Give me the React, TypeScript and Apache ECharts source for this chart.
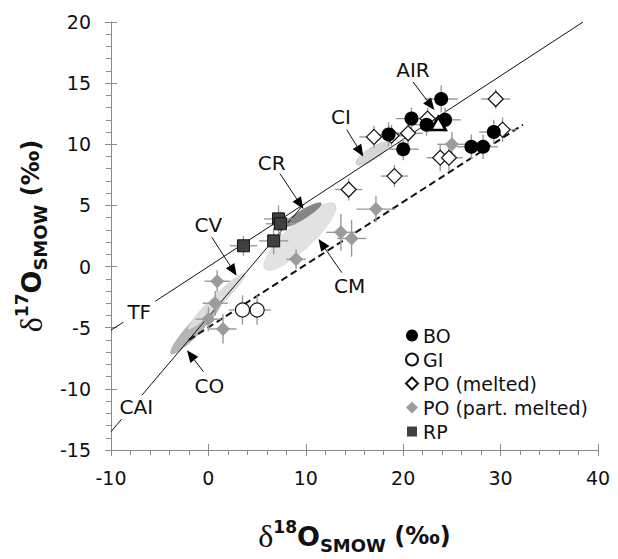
import React, { useEffect, useRef } from 'react';
import * as echarts from 'echarts';

const FONT = '"DejaVu Sans", Verdana, sans-serif';

// axis ranges
const X_MIN = -10, X_MAX = 40, X_INT = 10;
const Y_MIN = -15, Y_MAX = 20, Y_INT = 5;

// [d18O, d17O, xErr, yErr]
const boData = [
  [23.9, 13.7, 1.7, 1.1],
  [20.85, 12.1, 1.6, 0.9],
  [22.4, 11.6, 1.5, 0.9],
  [24.3, 12.0, 1.6, 1.0],
  [18.5, 10.8, 1.6, 1.0],
  [20.0, 9.6, 1.6, 0.9],
  [27.0, 9.8, 1.5, 1.0],
  [28.2, 9.8, 1.5, 1.0],
  [29.3, 11.0, 1.5, 1.0],
];
const giData = [
  [3.5, -3.55, 1.4, 1.2],
  [5.0, -3.55, 1.4, 1.2],
];
const poMeltedData = [
  [17.0, 10.6, 1.5, 0.9],
  [18.8, 10.7, 1.5, 0.9],
  [20.5, 10.9, 1.5, 0.9],
  [22.5, 12.1, 1.5, 0.9],
  [29.5, 13.7, 1.5, 0.8],
  [30.2, 11.2, 1.5, 1.0],
  [23.8, 8.9, 1.4, 1.1],
  [24.7, 8.9, 1.4, 1.1],
  [19.1, 7.4, 1.4, 0.9],
  [14.4, 6.3, 1.4, 0.9],
];
const poPartData = [
  [25.0, 10.0, 1.5, 1.0],
  [17.2, 4.7, 2.0, 1.1],
  [13.6, 2.8, 1.5, 1.5],
  [14.7, 2.3, 1.5, 1.5],
  [9.0, 0.6, 1.0, 0.8],
  [0.9, -1.2, 1.3, 0.9],
  [0.7, -3.0, 1.3, 1.0],
  [0.0, -4.3, 1.3, 1.0],
  [1.5, -5.1, 1.4, 1.2],
];
const rpData = [
  [7.2, 3.9, 1.5, 1.1],
  [7.4, 3.5, 1.5, 1.0],
  [6.7, 2.1, 1.5, 1.1],
  [3.6, 1.7, 1.4, 0.8],
];
const airData = [[23.6, 11.7]];

// reference lines
const tfLine = [[-10, -5.2], [38.46, 20]];
const ccamLine = [[-10, -13.5], [9.8, 5.1]];
const dashedLine = [[-2.0, -6.0], [32.3, 11.6]];

// ellipses: [x1, y1, x2, y2, halfWidthPx]
const ellipseNames = ['CO', 'CV', 'CM', 'CR', 'CI'];
const ellipseData = [
  [-3.84, -7.14, 1.39, -2.66, 7],
  [-2.1, -5.13, 3.74, -0.6, 5.5],
  [5.8, -0.19, 12.98, 5.1, 13],
  [7.6, 3.23, 11.6, 5.18, 4.5],
  [15.16, 8.36, 18.58, 10.12, 6],
];
const ellipseFills = ['#b4b4b4', '#dcdcdc', '#e2e2e2', '#858585', '#d6d6d6'];

// annotation labels
const labelTexts = ['AIR', 'CI', 'CR', 'CV', 'CM', 'TF', 'CO', 'CAI'];
const labelX = [21.0, 13.6, 6.5, 0.0, 14.5, -7.1, 0.1, -7.4];
const labelY = [16.1, 12.2, 8.5, 3.4, -1.6, -3.7, -9.8, -11.5];
const labelOnLine = [false, false, false, false, false, true, false, true];

// arrows: [x1, y1, x2(tip), y2(tip)]
const arrowData = [
  [21.0, 15.1, 23.2, 12.8],
  [14.2, 11.2, 15.9, 9.0],
  [7.35, 7.6, 9.75, 4.7],
  [0.35, 2.4, 2.9, -0.75],
  [13.7, -0.5, 11.3, 2.25],
  [-0.5, -8.6, -2.2, -6.85],
];

const legendNames = ['BO', 'GI', 'PO (melted)', 'PO (part. melted)', 'RP'];

const xy = (arr: number[][]) => arr.map((d) => [d[0], d[1]]);

export default function App() {
  const ref = useRef<HTMLDivElement>(null);
  useEffect(() => {
    if (!ref.current) return;
    const chart = echarts.init(ref.current, undefined, { renderer: 'svg' });

    const errAll = [...boData, ...giData, ...poMeltedData, ...poPartData, ...rpData];

    const richTitle = {
      d: { fontFamily: '"Liberation Serif", "DejaVu Serif", serif', fontSize: 32, color: '#111', lineHeight: 36 },
      sup: { fontFamily: FONT, fontWeight: 'bold', fontSize: 17, color: '#111', lineHeight: 20, verticalAlign: 'top' },
      o: { fontFamily: FONT, fontWeight: 'bold', fontSize: 27, color: '#111', lineHeight: 36 },
      sub: { fontFamily: FONT, fontWeight: 'bold', fontSize: 18, color: '#111', lineHeight: 26, verticalAlign: 'bottom' },
      p: { fontFamily: FONT, fontWeight: 'bold', fontSize: 24, color: '#111', lineHeight: 36 },
    };

    const axisCommon = {
      type: 'value',
      axisLine: { show: true, onZero: false, lineStyle: { color: '#8a8a8a', width: 1 } },
      splitLine: { show: false },
    };

    const option: any = {
      animation: false,
      grid: { left: 111, right: 20, top: 22, bottom: 107 },
      legend: {
        data: legendNames.map((n) =>
          n === 'RP'
            ? { name: n, itemStyle: { color: '#404040', borderColor: '#fff', borderWidth: 2 } }
            : { name: n }
        ),
        orient: 'vertical',
        left: 400,
        top: 321,
        itemWidth: 12,
        itemHeight: 12,
        itemGap: 5,
        selectedMode: false,
        textStyle: { fontFamily: FONT, fontSize: 19, color: '#111', lineHeight: 19 },
      },
      xAxis: [
        {
          ...axisCommon,
          min: X_MIN, max: X_MAX, interval: X_INT,
          position: 'bottom',
          axisTick: { show: true, length: 6, lineStyle: { color: '#8a8a8a' } },
          minorTick: { show: true, splitNumber: 5, length: 5, lineStyle: { color: '#8a8a8a' } },
          axisLabel: { fontFamily: FONT, fontSize: 19, color: '#111', margin: 18 },
          name: '{d|δ}{sup|18}{o|O}{sub|SMOW}{p| (‰)}',
          nameLocation: 'middle',
          nameGap: 68,
          nameTextStyle: { rich: richTitle },
        },
        {
          ...axisCommon,
          min: X_MIN, max: X_MAX, interval: X_INT,
          position: 'bottom',
          axisLine: { show: false, onZero: false },
          axisTick: { show: true, inside: true, length: 6, lineStyle: { color: '#8a8a8a' } },
          axisLabel: { show: false },
        },
      ],
      yAxis: [
        {
          ...axisCommon,
          min: Y_MIN, max: Y_MAX, interval: Y_INT,
          position: 'left',
          axisTick: { show: true, length: 6, lineStyle: { color: '#8a8a8a' } },
          minorTick: { show: true, splitNumber: 5, length: 5, lineStyle: { color: '#8a8a8a' } },
          axisLabel: { fontFamily: FONT, fontSize: 19, color: '#111', margin: 20 },
          name: '{d|δ}{sup|17}{o|O}{sub|SMOW}{p| (‰)}',
          nameLocation: 'middle',
          nameRotate: 90,
          nameGap: 57,
          nameTextStyle: { rich: richTitle },
        },
        {
          ...axisCommon,
          min: Y_MIN, max: Y_MAX, interval: Y_INT,
          position: 'left',
          axisLine: { show: false, onZero: false },
          axisTick: { show: true, inside: true, length: 6, lineStyle: { color: '#8a8a8a' } },
          axisLabel: { show: false },
        },
      ],
      series: [
        {
          type: 'custom',
          name: 'ellipses',
          z: 1,
          silent: true,
          encode: { x: [0, 2], y: [1, 3] },
          data: ellipseData,
          renderItem: (params: any, api: any) => {
            const d = ellipseData[params.dataIndex];
            const p1 = api.coord([d[0], d[1]]);
            const p2 = api.coord([d[2], d[3]]);
            const cx = (p1[0] + p2[0]) / 2;
            const cy = (p1[1] + p2[1]) / 2;
            const rx = Math.hypot(p2[0] - p1[0], p2[1] - p1[1]) / 2;
            const ang = Math.atan2(p2[1] - p1[1], p2[0] - p1[0]);
            return {
              type: 'ellipse',
              x: cx,
              y: cy,
              rotation: -ang,
              shape: { cx: 0, cy: 0, rx, ry: d[4] },
              style: { fill: ellipseFills[params.dataIndex], stroke: 'rgba(150,150,150,0.4)', lineWidth: 0.5 },
            };
          },
        },
        {
          type: 'line', name: 'TF', data: tfLine, z: 2, symbol: 'none', silent: true,
          lineStyle: { color: '#111', width: 1 },
        },
        {
          type: 'line', name: 'CCAM', data: ccamLine, z: 2, symbol: 'none', silent: true,
          lineStyle: { color: '#111', width: 1 },
        },
        {
          type: 'line', name: 'dashed', data: dashedLine, z: 2, symbol: 'none', silent: true,
          lineStyle: { color: '#111', width: 2, type: [7, 4] },
        },
        {
          type: 'custom',
          name: 'errors',
          z: 3,
          silent: true,
          encode: { x: 0, y: 1 },
          data: errAll,
          renderItem: (params: any, api: any) => {
            const x = api.value(0), y = api.value(1), ex = api.value(2), ey = api.value(3);
            const l = api.coord([x - ex, y]);
            const r = api.coord([x + ex, y]);
            const t = api.coord([x, y + ey]);
            const b = api.coord([x, y - ey]);
            const st = { stroke: '#9a9a9a', lineWidth: 1.4 };
            return {
              type: 'group',
              children: [
                { type: 'line', shape: { x1: l[0], y1: l[1], x2: r[0], y2: r[1] }, style: st },
                { type: 'line', shape: { x1: t[0], y1: t[1], x2: b[0], y2: b[1] }, style: st },
              ],
            };
          },
        },
        {
          type: 'scatter', name: 'PO (part. melted)', data: xy(poPartData), z: 5,
          symbol: 'diamond', symbolSize: 14,
          itemStyle: { color: '#9b9b9b', opacity: 1 },
        },
        {
          type: 'scatter', name: 'RP', data: xy(rpData), z: 5,
          symbol: 'rect', symbolSize: 12,
          itemStyle: { color: '#404040', borderColor: '#111', borderWidth: 1, opacity: 1 },
        },
        {
          type: 'scatter', name: 'PO (melted)', data: xy(poMeltedData), z: 5,
          symbol: 'diamond', symbolSize: 15,
          itemStyle: { color: '#fff', borderColor: '#111', borderWidth: 1.2, opacity: 1 },
        },
        {
          type: 'scatter', name: 'GI', data: xy(giData), z: 5,
          symbol: 'circle', symbolSize: 14,
          itemStyle: { color: '#fff', borderColor: '#111', borderWidth: 1.2, opacity: 1 },
        },
        {
          type: 'scatter', name: 'BO', data: xy(boData), z: 6,
          symbol: 'circle', symbolSize: 14,
          itemStyle: { color: '#000', opacity: 1 },
        },
        {
          type: 'scatter', name: 'AIR', data: airData, z: 7,
          symbol: 'triangle', symbolSize: [15, 13],
          itemStyle: { color: '#fff', borderColor: '#000', borderWidth: 2.6, opacity: 1 },
        },
        {
          type: 'custom',
          name: 'arrows',
          z: 8,
          silent: true,
          encode: { x: [0, 2], y: [1, 3] },
          data: arrowData,
          renderItem: (params: any, api: any) => {
            const d = arrowData[params.dataIndex];
            const p1 = api.coord([d[0], d[1]]);
            const p2 = api.coord([d[2], d[3]]);
            const ang = Math.atan2(p2[1] - p1[1], p2[0] - p1[0]);
            const L = 12, W = 5;
            const bx = p2[0] - L * Math.cos(ang), by = p2[1] - L * Math.sin(ang);
            const nx = -Math.sin(ang), ny = Math.cos(ang);
            return {
              type: 'group',
              children: [
                { type: 'line', shape: { x1: p1[0], y1: p1[1], x2: bx, y2: by }, style: { stroke: '#111', lineWidth: 1 } },
                {
                  type: 'polygon',
                  shape: { points: [[p2[0], p2[1]], [bx + nx * W, by + ny * W], [bx - nx * W, by - ny * W]] },
                  style: { fill: '#000' },
                },
              ],
            };
          },
        },
        {
          type: 'custom',
          name: 'labels',
          z: 9,
          silent: true,
          encode: { x: 0, y: 1 },
          data: labelTexts.map((_, i) => [labelX[i], labelY[i]]),
          renderItem: (params: any, api: any) => {
            const i = params.dataIndex;
            const p = api.coord([labelX[i], labelY[i]]);
            return {
              type: 'text',
              x: p[0],
              y: p[1],
              style: {
                text: labelTexts[i],
                fill: '#111',
                font: `20px ${FONT}`,
                align: 'center',
                verticalAlign: 'middle',
                backgroundColor: labelOnLine[i] ? '#fff' : 'transparent',
                padding: labelOnLine[i] ? [2, 4] : 0,
              },
            };
          },
        },
      ],
    };
    chart.setOption(option);
    return () => chart.dispose();
  }, []);

  return <div ref={ref} style={{ position: 'fixed', left: 0, top: 0, width: 618, height: 559, background: '#fff' }} />;
}
